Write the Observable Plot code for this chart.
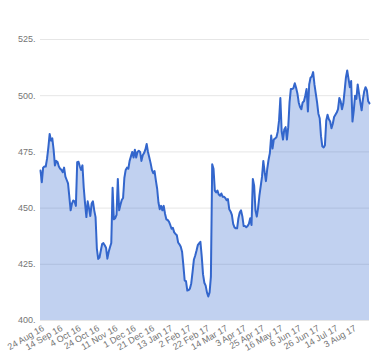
<!DOCTYPE html>
<html>
<head>
<meta charset="utf-8">
<script src="https://cdn.jsdelivr.net/npm/d3@7"></script>
<script src="https://cdn.jsdelivr.net/npm/@observablehq/plot@0.6"></script>
<style>
  html, body { margin: 0; padding: 0; background: #ffffff; }
  #chart { width: 380px; height: 360px; }
</style>
</head>
<body>
<div id="chart"></div>
<script>
// Closing prices, one per trading day (24 Aug 2016 – Aug 2017)
const prices = [
  466.7, 461.5, 468, 468.5, 468.5, 472, 477, 483, 480, 481,
  476, 469, 471, 470.5, 468.5, 467.5, 467, 466, 468, 464,
  462.5, 461, 455, 449, 452, 453.4, 453, 451, 470.4, 470.6,
  468.5, 467, 469, 459, 452, 446, 453, 450, 446.5, 452,
  453, 449, 446, 432, 427.4, 428, 431, 434, 434.4, 433.5,
  432.4, 427.5, 430.5, 432.6, 434.5, 459, 445, 445.5, 447, 463,
  449, 451.5, 453.6, 454.5, 463.5, 467, 468, 467.5, 471, 473,
  475, 472.5, 476, 472.5, 475, 475.5, 475, 471, 473.5, 474.5,
  476, 478.5, 475, 472.5, 470, 467, 465.5, 466.5, 462.3, 458.6,
  452.5, 449.5, 451, 449, 451, 447.5, 445, 444.7, 444, 442.5,
  440.8, 441.2, 439.2, 438.5, 437.9, 434.7, 433.9, 432.8, 430.6, 424.5,
  417.8, 417.5, 413.3, 413.5, 414.2, 416.5, 421.5, 427, 428.8, 431,
  433.5, 434.3, 435, 428.5, 420.5, 416.8, 415.5, 412.5, 410.7, 412.5,
  419.5, 469.5, 467.5, 457.8, 457, 457.8, 456, 455.5, 456.5, 455,
  455, 454.5, 453.5, 454, 449.5, 448.5, 447, 443, 441.4, 441,
  441, 445.5, 448, 449, 446.3, 442, 442, 441.5, 442, 443,
  445.5, 442.5, 463, 460, 449, 446.2, 450, 455.5, 459.8, 464,
  471, 466, 462, 467.5, 471.5, 474.5, 482.3, 476.5, 480.5, 481,
  481.5, 484, 489, 499, 484, 480.5, 485, 486, 480.5, 486,
  497, 503, 503, 503.4, 505.5, 503.5, 501, 497, 495, 494,
  497, 497.5, 500, 503, 493, 505, 508, 508.5, 510.5, 505,
  501, 497, 492, 490, 482, 477.5, 477, 478, 489, 491.5,
  489.5, 488.5, 485.5, 487.5, 490.5, 491.5, 492.5, 494, 499, 497.5,
  494, 496.5, 502, 508, 511.2, 507.5, 503.8, 506.5, 488.5, 493.4,
  500, 498.6, 505, 501, 497, 493.5, 498.5, 502, 503.8, 502.5,
  497.5, 496.6
];

// X tick labels and the trading-day index each one sits on
const xTickLabels = ["24 Aug 16", "14 Sep 16", "4 Oct 16", "24 Oct 16", "11 Nov 16", "1 Dec 16",
  "21 Dec 16", "13 Jan 17", "2 Feb 17", "22 Feb 17", "14 Mar 17", "3 Apr 17",
  "25 Apr 17", "16 May 17", "6 Jun 17", "26 Jun 17", "14 Jul 17", "3 Aug 17"];
const xTickIndex = [0, 14, 28, 42, 56, 70, 84, 98, 112, 126, 140, 154, 168, 182, 196, 210, 224, 238];

// Y ticks and their labels
const yTicks = [400, 425, 450, 475, 500, 525];
const yTickLabels = ["400.", "425.", "450.", "475.", "500.", "525."];

const xLabelMap = new Map(xTickIndex.map((v, i) => [v, xTickLabels[i]]));
const yLabelMap = new Map(yTicks.map((v, i) => [v, yTickLabels[i]]));
const rows = prices.map((p, i) => ({ i, p }));

const chart = Plot.plot({
  width: 380,
  height: 360,
  marginLeft: 40,
  marginRight: 11,
  marginTop: 39,
  marginBottom: 40,
  style: { fontFamily: "Arial, 'Liberation Sans', sans-serif", fontSize: "9px", background: "#ffffff", color: "#757575" },
  x: { type: "linear", domain: [0, prices.length - 1], label: null },
  y: { domain: [400, 525], label: null },
  marks: [
    Plot.gridY(yTicks, { stroke: "#e6e6e6", strokeOpacity: 1 }),
    Plot.areaY(rows, { x: "i", y1: 400, y2: "p", fill: "#3366cc", fillOpacity: 0.3 }),
    Plot.lineY(rows, { x: "i", y: "p", stroke: "#3366cc", strokeWidth: 2 }),
    Plot.axisY(yTicks, { tickSize: 0, tickPadding: 5, label: null, tickFormat: d => yLabelMap.get(d), fill: "#757575" }),
    Plot.axisX(xTickIndex, { tickSize: 0, tickPadding: 7, dx: 3, label: null, tickRotate: -30, textAnchor: "end", tickFormat: d => xLabelMap.get(d), fill: "#757575" })
  ]
});
document.getElementById("chart").appendChild(chart);
</script>
</body>
</html>
